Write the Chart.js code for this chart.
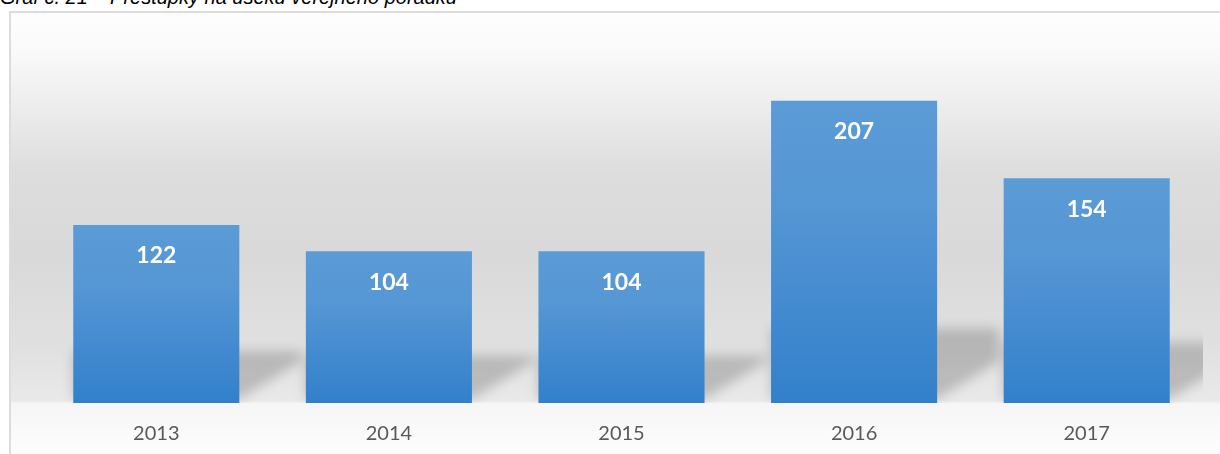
<!DOCTYPE html>
<html>
<head>
<meta charset="utf-8">
<script src="https://cdn.jsdelivr.net/npm/chart.js@4/dist/chart.umd.min.js"></script>
<style>
  body { margin: 0; background: #fff; width: 1220px; height: 454px; overflow: hidden; position: relative; }
  #title { position: absolute; left: 0; top: -14px; font: italic 20px "Liberation Sans", Arial, sans-serif; color: #000; white-space: nowrap; }
  #frame { position: absolute; left: 9px; top: 11px; width: 1220px; height: 450px; border-left: 2px solid #dcdcdc; border-top: 2px solid #dcdcdc; }
  #wrap { position: absolute; left: 11px; top: 13px; width: 1209px; height: 441px; }
</style>
</head>
<body>
<div id="title">Graf č. 21 – Přestupky na úseku veřejného pořádku</div>
<div id="frame"></div>
<div id="wrap"><canvas id="chart"></canvas></div>
<script>
const years = ["2013", "2014", "2015", "2016", "2017"];
const offences = [122, 104, 104, 207, 154];
const yMax = 250;

// background: white at top, grey band in the middle, light floor under the axis
const backdrop = {
    id: "backdrop",
    beforeDraw(chart) {
        const ctx = chart.ctx;
        const h = chart.height;
        const g = ctx.createLinearGradient(0, 0, 0, h);
        g.addColorStop(0, "#fefefe");
        g.addColorStop(0.08, "#fafafa");
        g.addColorStop(0.2, "#eeeeee");
        g.addColorStop(0.36, "#dddddd");
        g.addColorStop(0.55, "#d9d9d9");
        g.addColorStop(0.75, "#e0e0e0");
        g.addColorStop(0.88, "#e9e9e9");
        g.addColorStop(0.885, "#f6f6f6");
        g.addColorStop(1, "#fdfdfd");
        ctx.save();
        ctx.fillStyle = g;
        ctx.fillRect(0, 0, chart.width, h);
        ctx.restore();
    }
};

// soft floor shadows behind each bar
const barShadows = {
    id: "barShadows",
    beforeDatasetsDraw(chart) {
        const ctx = chart.ctx;
        const area = chart.chartArea;
        const meta = chart.getDatasetMeta(0);
        ctx.save();
        ctx.beginPath();
        ctx.rect(area.left, area.top, area.right - area.left, area.bottom - area.top);
        ctx.clip();
        ctx.filter = "blur(6px)";
        ctx.fillStyle = "rgba(0,0,0,0.19)";
        meta.data.forEach(bar => {
            const right = bar.x + bar.width / 2;
            const left = bar.x - bar.width / 2;
            const h = bar.base - bar.y;
            const sh = h * 0.18 + 20;
            const dx = 62, dy = 42;
            ctx.beginPath();
            ctx.moveTo(left, bar.base - 4);
            ctx.lineTo(right, bar.base - 4);
            ctx.lineTo(right + dx, bar.base - dy);
            ctx.lineTo(right + dx, bar.base - sh);
            ctx.lineTo(left, bar.base - sh);
            ctx.closePath();
            ctx.fill();
        });
        ctx.restore();
    }
};

const valueLabels = {
    id: "valueLabels",
    afterDatasetsDraw(chart) {
        const ctx = chart.ctx;
        const meta = chart.getDatasetMeta(0);
        ctx.save();
        ctx.fillStyle = "#ffffff";
        ctx.font = "bold 23px Lato, 'Open Sans', sans-serif";
        ctx.textAlign = "center";
        ctx.textBaseline = "middle";
        meta.data.forEach((bar, i) => {
            ctx.fillText(String(offences[i]), bar.x, bar.y + 31);
        });
        ctx.restore();
    }
};

function barFill(context) {
    const chart = context.chart;
    if (!chart.chartArea) return "#4a8fd2";
    const y = chart.scales.y;
    const top = y.getPixelForValue(context.raw);
    const bottom = y.getPixelForValue(0);
    const g = chart.ctx.createLinearGradient(0, top, 0, bottom);
    g.addColorStop(0, "#5b9bd6");
    g.addColorStop(0.35, "#5596d4");
    g.addColorStop(1, "#3280cb");
    return g;
}

new Chart(document.getElementById("chart"), {
    type: "bar",
    data: {
        labels: years,
        datasets: [{
            data: offences,
            backgroundColor: barFill,
            borderWidth: 0,
            categoryPercentage: 1,
            barPercentage: 0.714
        }]
    },
    options: {
        responsive: true,
        maintainAspectRatio: false,
        animation: false,
        layout: { padding: { left: 29, right: 17, top: 25, bottom: 0 } },
        plugins: { legend: { display: false }, tooltip: { enabled: false } },
        scales: {
            x: {
                grid: { display: false, drawTicks: false },
                border: { display: false },
                ticks: {
                    color: "#595959",
                    padding: 19,
                    font: { family: "Lato, 'Open Sans', sans-serif", size: 20 }
                },
                afterFit(scale) { scale.height = 51; }
            },
            y: { display: false, min: 0, max: yMax }
        }
    },
    plugins: [backdrop, barShadows, valueLabels]
});
</script>
</body>
</html>
